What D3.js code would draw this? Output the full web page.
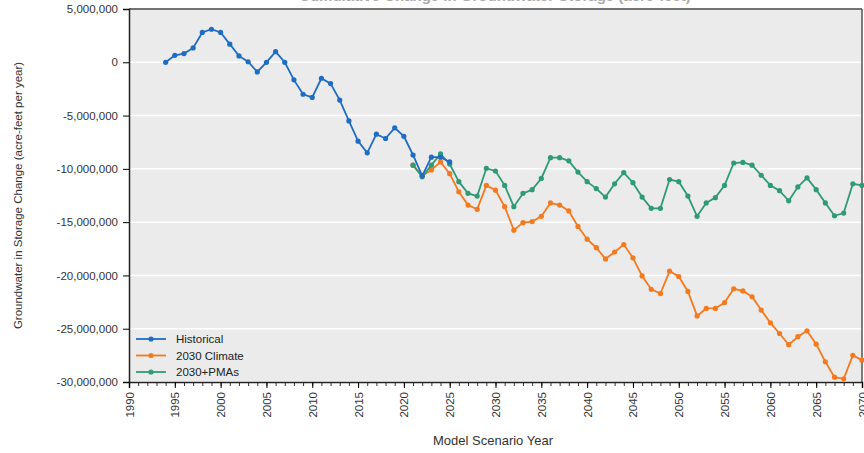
<!DOCTYPE html>
<html><head><meta charset="utf-8">
<script src="https://cdn.jsdelivr.net/npm/d3@7"></script>
<style>body{margin:0;background:#fff}svg{display:block}</style>
</head><body><svg id="c" width="864" height="453"></svg>
<script>
const title = "Cumulative Change in Groundwater Storage (acre-feet)";
const yTitle = "Groundwater in Storage Change (acre-feet per year)";
const xTitle = "Model Scenario Year";
const seriesNames = ["Historical", "2030 Climate", "2030+PMAs"];
const seriesColors = ["#1f6cc4", "#f47a20", "#2e9b76"];
const yTicks = [5000000, 0, -5000000, -10000000, -15000000, -20000000, -25000000, -30000000];
const xTicks = [1990,1995,2000,2005,2010,2015,2020,2025,2030,2035,2040,2045,2050,2055,2060,2065,2070];

const histYears = d3.range(1994, 2026);
const histValues = [0, 650000, 820000, 1350000, 2800000, 3100000, 2800000, 1700000, 600000, 50000,
  -900000, 0, 1000000, 0, -1650000, -3000000, -3300000, -1500000, -2000000, -3550000,
  -5500000, -7400000, -8500000, -6750000, -7150000, -6150000, -6950000, -8700000, -10650000, -8900000,
  -8900000, -9350000];

const scenYears = d3.range(2021, 2071);
const climateValues = [-9650000, -10650000, -10100000, -9350000, -10450000, -12150000, -13400000, -13800000, -11550000, -12000000,
  -13550000, -15750000, -15050000, -14950000, -14450000, -13200000, -13400000, -13950000, -15400000, -16600000,
  -17400000, -18450000, -17800000, -17100000, -18350000, -20050000, -21300000, -21700000, -19600000, -20100000,
  -21500000, -23800000, -23100000, -23100000, -22550000, -21250000, -21450000, -22000000, -23250000, -24450000,
  -25450000, -26500000, -25750000, -25200000, -26450000, -28100000, -29550000, -29700000, -27500000, -27950000];
const pmaValues = [-9650000, -10750000, -9650000, -8600000, -9550000, -11200000, -12300000, -12550000, -9950000, -10200000,
  -11550000, -13550000, -12300000, -11950000, -10900000, -8950000, -8950000, -9250000, -10300000, -11200000,
  -11850000, -12650000, -11400000, -10350000, -11300000, -12650000, -13700000, -13700000, -11000000, -11200000,
  -12550000, -14450000, -13200000, -12700000, -11550000, -9450000, -9400000, -9650000, -10600000, -11550000,
  -12050000, -13000000, -11700000, -10850000, -11950000, -13200000, -14400000, -14150000, -11400000, -11550000];

const series = [
  {name: seriesNames[1], color: seriesColors[1], data: scenYears.map((y,i)=>({x:y, v:climateValues[i]}))},
  {name: seriesNames[2], color: seriesColors[2], data: scenYears.map((y,i)=>({x:y, v:pmaValues[i]}))},
  {name: seriesNames[0], color: seriesColors[0], data: histYears.map((y,i)=>({x:y, v:histValues[i]}))}
];

const svg = d3.select("#c");
const L = 129, R = 862, T = 9, B = 382;
const x = d3.scaleLinear().domain([1990, 2070]).range([L, R]);
const y = d3.scaleLinear().domain([-30000000, 5000000]).range([B, T]);
const font = "'Liberation Sans', Arial, sans-serif";
const fmt = v => d3.format(",")(v).replace("\u2212", "-");

// title (cut off at top edge, as in the reference)
svg.append("text").attr("x", 495).attr("y", 1).attr("text-anchor", "middle")
  .attr("font-family", font).attr("font-size", 15).attr("font-weight", "bold").attr("fill", "#aaa").text(title);

svg.append("rect").attr("x", L).attr("y", T).attr("width", R-L).attr("height", B-T).attr("fill", "#ebebeb");

// gridlines
svg.append("g").selectAll("line").data(yTicks).join("line")
  .attr("x1", L).attr("x2", R).attr("y1", d=>y(d)).attr("y2", d=>y(d))
  .attr("stroke", "#fff").attr("stroke-width", 1.5);

// frame top & right
svg.append("line").attr("x1", L).attr("x2", R).attr("y1", T).attr("y2", T).attr("stroke", "#444").attr("stroke-width", 1.5);
svg.append("line").attr("x1", R).attr("x2", R).attr("y1", T).attr("y2", B).attr("stroke", "#555").attr("stroke-width", 1.5);

// y axis
const yAxis = svg.append("g").attr("transform", `translate(${L},0)`)
  .call(d3.axisLeft(y).tickValues(yTicks).tickSize(6).tickPadding(5).tickFormat(fmt));
yAxis.select(".domain").attr("stroke", "#222").attr("stroke-width", 1.5);
yAxis.selectAll("text").attr("font-family", font).attr("font-size", 11.5).attr("fill", "#333");

// x axis minor ticks
svg.append("g").attr("transform", `translate(0,${B})`)
  .call(d3.axisBottom(x).tickValues(d3.range(1990, 2071)).tickSize(4).tickFormat(""))
  .call(g=>g.select(".domain").remove())
  .selectAll("line").attr("stroke", "#333");
const xAxis = svg.append("g").attr("transform", `translate(0,${B})`)
  .call(d3.axisBottom(x).tickValues(xTicks).tickSize(6).tickFormat(d3.format("d")));
xAxis.select(".domain").attr("stroke", "#222").attr("stroke-width", 1.5);
xAxis.selectAll("text").attr("font-family", font).attr("font-size", 11.5).attr("fill", "#333")
  .attr("transform", "rotate(-90)").attr("text-anchor", "end").attr("x", -10).attr("y", 0).attr("dy", "0.35em");

// axis titles
svg.append("text").attr("transform", `translate(22,${(T+B)/2}) rotate(-90)`).attr("text-anchor", "middle")
  .attr("font-family", font).attr("font-size", 11.5).attr("fill", "#333").text(yTitle);
svg.append("text").attr("x", 493).attr("y", 445).attr("text-anchor", "middle")
  .attr("font-family", font).attr("font-size", 13).attr("fill", "#333").text(xTitle);

// lines
const line = d3.line().x(d=>x(d.x)).y(d=>y(d.v));
series.forEach(s=>{
  const g = svg.append("g");
  g.append("path").datum(s.data).attr("d", line).attr("fill", "none").attr("stroke", s.color).attr("stroke-width", 1.8);
  g.selectAll("circle").data(s.data).join("circle").attr("cx", d=>x(d.x)).attr("cy", d=>y(d.v)).attr("r", 2.6).attr("fill", s.color);
});

// legend
const lg = svg.append("g").attr("transform", `translate(136,339)`);
seriesNames.forEach((n,i)=>{
  const gy = i*16.5;
  lg.append("line").attr("x1", 0).attr("x2", 30).attr("y1", gy).attr("y2", gy).attr("stroke", seriesColors[i]).attr("stroke-width", 1.8);
  lg.append("circle").attr("cx", 15).attr("cy", gy).attr("r", 2.6).attr("fill", seriesColors[i]);
  lg.append("text").attr("x", 40).attr("y", gy).attr("dy", "0.35em").attr("font-family", font).attr("font-size", 11.5).attr("fill", "#222").text(n);
});
</script></body></html>
